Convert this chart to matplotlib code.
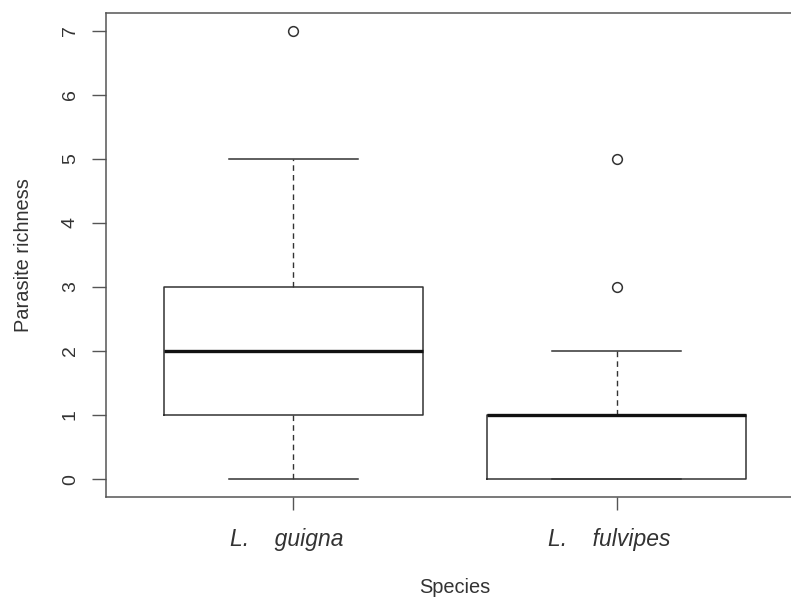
import matplotlib
matplotlib.use("Agg")
import matplotlib.pyplot as plt
import matplotlib.transforms as mtransforms

# box summaries
species = ["L.    guigna", "L.    fulvipes"]
whisker_low = [0, 0]
q1 = [1, 0]
median = [2, 1]
q3 = [3, 1]
whisker_high = [5, 2]
outliers = [[7], [3, 5]]
yticks = [0, 1, 2, 3, 4, 5, 6, 7]

plt.rcParams["font.family"] = ["Liberation Sans", "DejaVu Sans"]
ink = "#333333"

stats = []
for i in range(len(species)):
    stats.append(dict(whislo=whisker_low[i], q1=q1[i], med=median[i], q3=q3[i],
                      whishi=whisker_high[i], fliers=outliers[i], label=species[i]))

fig = plt.figure(figsize=(7.91, 5.98), dpi=100)
ax = fig.add_axes([106 / 791, 101 / 598, 698 / 791, 484 / 598])

ax.bxp(stats, positions=[1, 2], widths=0.8, showfliers=True,
       boxprops=dict(color=ink, linewidth=1.1),
       medianprops=dict(color="#111111", linewidth=2.4, solid_capstyle="butt"),
       whiskerprops=dict(color=ink, linewidth=1.0, linestyle=(0, (4, 3))),
       capprops=dict(color=ink, linewidth=1.1),
       capwidths=0.4,
       flierprops=dict(marker="o", markersize=7, markerfacecolor="none",
                       markeredgecolor=ink, markeredgewidth=1.1))

ax.set_xlim(0.42, 2.58)
ax.set_ylim(-0.28, 7.28)
ax.set_yticks(yticks)
ax.set_yticklabels([str(v) for v in yticks], rotation=90, va="center",
                   fontsize=14, color=ink)
ax.set_xticks([1, 2])
ax.set_xticklabels(species, fontsize=16.5, style="italic", color=ink)
ax.tick_params(axis="y", length=10, width=1, color="#555555", pad=9.5)
ax.tick_params(axis="x", length=9.5, width=1, color="#555555", pad=13)

# the species names sit a little left of their ticks in the original
shift = mtransforms.ScaledTranslation(-7 / 100, 0, fig.dpi_scale_trans)
for lab in ax.get_xticklabels():
    lab.set_transform(lab.get_transform() + shift)

for s in ax.spines.values():
    s.set_color("#555555")
    s.set_linewidth(1.1)

ax.set_ylabel("Parasite richness", fontsize=14.4, color=ink, labelpad=21)
ax.set_xlabel("Species", fontsize=14.4, color=ink, labelpad=19)

fig.savefig("out.png", dpi=100)
